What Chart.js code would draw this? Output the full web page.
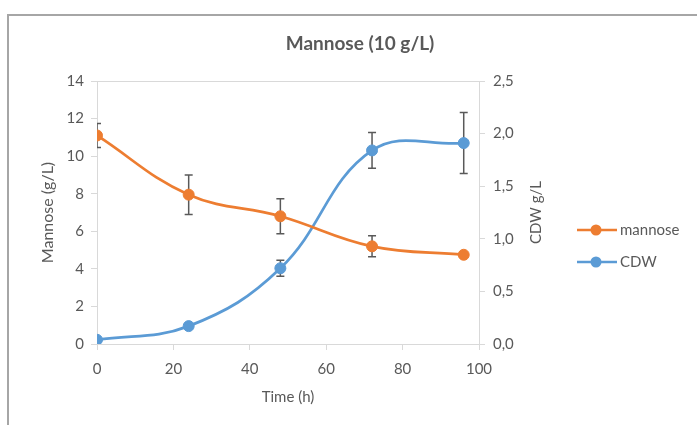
<!DOCTYPE html>
<html>
<head>
<meta charset="utf-8">
<script src="https://cdn.jsdelivr.net/npm/chart.js@4.4.1/dist/chart.umd.min.js"></script>
<style>
  html, body { margin: 0; padding: 0; background: #fff; }
  #wrap { position: relative; width: 697px; height: 425px; }
  #frame { position: absolute; left: 7px; top: 14px; right: 0; bottom: 0;
           border-top: 2px solid #a6a6a6; border-left: 2px solid #a6a6a6; pointer-events: none; }
</style>
</head>
<body>
<div id="wrap">
  <canvas id="chart" width="697" height="425"></canvas>
  <div id="frame"></div>
</div>
<script>
// values
const hours = [0, 24, 48, 72, 96];
const mannose = [11.1, 7.95, 6.8, 5.2, 4.75];
const mannoseErr = [0.64, 1.05, 0.93, 0.56, 0];
const cdw = [0.04, 0.17, 0.72, 1.84, 1.91];
const cdwErr = [0, 0, 0.075, 0.17, 0.29];

const textColor = '#595959';
const axisColor = '#d9d9d9';
const fontName = 'Lato, "Open Sans", sans-serif';

Chart.defaults.font.family = fontName;
Chart.defaults.color = textColor;

function toPoints (xs, ys) {
    return xs.map((x, i) => ({ x: x, y: ys[i] }));
}

// error bars, drawn under the markers and clipped to the plot area
const errorBars = {
    id: 'errorBars',
    beforeDatasetsDraw (chart) {
        const ctx = chart.ctx;
        const area = chart.chartArea;
        ctx.save();
        ctx.beginPath();
        ctx.rect(area.left, area.top, area.right - area.left, area.bottom - area.top);
        ctx.clip();
        ctx.strokeStyle = '#595959';
        ctx.lineWidth = 1.5;
        chart.data.datasets.forEach(ds => {
            const yScale = chart.scales[ds.yAxisID];
            ds.data.forEach((p, i) => {
                const e = ds.errors[i];
                if (!e) return;
                const x = chart.scales.x.getPixelForValue(p.x);
                const y1 = yScale.getPixelForValue(p.y + e);
                const y2 = yScale.getPixelForValue(p.y - e);
                ctx.beginPath();
                ctx.moveTo(x, y1); ctx.lineTo(x, y2);
                ctx.moveTo(x - 4, y1); ctx.lineTo(x + 4, y1);
                ctx.moveTo(x - 4, y2); ctx.lineTo(x + 4, y2);
                ctx.stroke();
            });
        });
        ctx.restore();
    }
};

// chart title (centred on the frame, not the plot), right axis title
// reading bottom to top, and the legend at the right
const extras = {
    id: 'extras',
    afterDraw (chart) {
        const ctx = chart.ctx;
        const area = chart.chartArea;
        ctx.save();
        ctx.fillStyle = textColor;
        ctx.textAlign = 'center';
        ctx.textBaseline = 'middle';
        ctx.font = 'bold 19px ' + fontName;
        ctx.fillText('Mannose (10 g/L)', 360, 44);

        ctx.font = '15px ' + fontName;
        ctx.translate(536, (area.top + area.bottom) / 2);
        ctx.rotate(-Math.PI / 2);
        ctx.fillText('CDW g/L', 0, 0);
        ctx.restore();

        ctx.save();
        chart.data.datasets.forEach((ds, i) => {
            const y = 230 + i * 32;
            ctx.strokeStyle = ds.borderColor;
            ctx.lineWidth = 2.5;
            ctx.beginPath();
            ctx.moveTo(577, y); ctx.lineTo(617, y);
            ctx.stroke();
            ctx.fillStyle = ds.borderColor;
            ctx.beginPath();
            ctx.arc(596, y, 5.5, 0, Math.PI * 2);
            ctx.fill();
            ctx.fillStyle = textColor;
            ctx.font = '15px ' + fontName;
            ctx.textAlign = 'left';
            ctx.textBaseline = 'middle';
            ctx.fillText(ds.label, 620, y);
        });
        ctx.restore();
    }
};

new Chart(document.getElementById('chart').getContext('2d'), {
    type: 'line',
    data: {
        datasets: [
            {
                label: 'mannose',
                data: toPoints(hours, mannose),
                errors: mannoseErr,
                yAxisID: 'y',
                borderColor: '#ED7D31',
                backgroundColor: '#ED7D31',
                borderWidth: 2.75,
                pointRadius: 5.5,
                pointBorderWidth: 1,
                tension: 0.4
            },
            {
                label: 'CDW',
                data: toPoints(hours, cdw),
                errors: cdwErr,
                yAxisID: 'y1',
                borderColor: '#5B9BD5',
                backgroundColor: '#5B9BD5',
                borderWidth: 2.75,
                pointRadius: 5.5,
                pointBorderWidth: 1,
                tension: 0.4
            }
        ]
    },
    options: {
        responsive: false,
        animation: false,
        layout: { padding: { left: 34, right: 148, top: 81, bottom: 15 } },
        plugins: {
            legend: { display: false },
            tooltip: { enabled: false },
            title: { display: false }
        },
        scales: {
            x: {
                type: 'linear',
                min: 0,
                max: 100,
                afterFit: s => { s.height = 66; },
                ticks: { stepSize: 20, padding: 10, font: { size: 15 }, color: textColor },
                grid: { drawOnChartArea: false, tickLength: 6, tickColor: axisColor },
                border: { color: axisColor, width: 1 },
                title: { display: true, text: 'Time (h)', font: { size: 15 }, color: textColor }
            },
            y: {
                position: 'left',
                min: 0,
                max: 14,
                afterFit: s => { s.width = 63; },
                ticks: { stepSize: 2, padding: 7, font: { size: 15 }, color: textColor },
                grid: {
                    color: c => (c.tick && c.tick.value === 14 ? axisColor : 'rgba(0,0,0,0)'),
                    tickColor: axisColor,
                    tickLength: 6
                },
                border: { color: axisColor, width: 1 },
                title: { display: true, text: 'Mannose (g/L)', font: { size: 16 }, color: textColor }
            },
            y1: {
                position: 'right',
                min: 0,
                max: 2.5,
                afterFit: s => { s.width = 70; },
                ticks: {
                    stepSize: 0.5,
                    padding: 8,
                    font: { size: 15 },
                    color: textColor,
                    callback: v => v.toFixed(1).replace('.', ',')
                },
                grid: { drawOnChartArea: false, tickLength: 6, tickColor: axisColor },
                border: { color: axisColor, width: 1 }
            }
        }
    },
    plugins: [errorBars, extras]
});
</script>
</body>
</html>
